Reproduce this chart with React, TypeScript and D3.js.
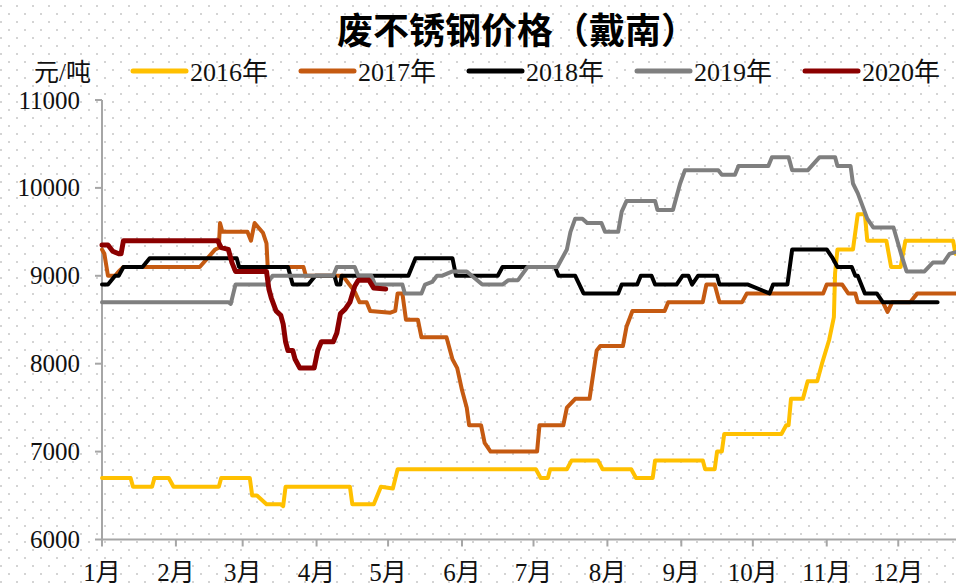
import { useEffect, useRef } from "react";
import * as d3 from "d3";

// day of year (0 = 1月1日), price in 元/吨
const prices2016: [number, number][] = [
    [0, 6700], [12, 6700], [13, 6600], [21, 6600], [22, 6700], [28, 6700], [30, 6600], [49, 6600],
    [50, 6700], [62, 6700], [63, 6500], [65, 6500], [69, 6400], [75, 6400], [76, 6380], [77, 6600],
    [104, 6600], [105, 6400], [114, 6400], [117, 6600], [122, 6580], [124, 6800], [182, 6800],
    [184, 6700], [187, 6700], [188, 6800], [195, 6800], [197, 6900], [208, 6900], [210, 6800],
    [222, 6800], [224, 6700], [231, 6700], [232, 6900], [252, 6900], [253, 6800], [257, 6800],
    [258, 7000], [260, 7000], [261, 7200], [285, 7200], [287, 7300], [288, 7300], [289, 7600],
    [294, 7600], [296, 7800], [300, 7800], [302, 8000], [305, 8270], [307, 8530], [307.5, 9030],
    [308.5, 9300], [315, 9300], [317, 9700], [320, 9700], [321, 9400], [329, 9400], [331, 9100],
    [335, 9100], [337, 9400], [357, 9400], [358, 9250], [362, 9250]
];

const prices2017: [number, number][] = [
    [0, 9300], [1, 9250], [2.5, 9000], [5.5, 9000], [7, 9050], [9, 9100], [41, 9100], [47.5, 9300],
    [49, 9320], [49.5, 9600], [50.5, 9500], [61, 9500], [62.5, 9400], [64, 9600], [67.5, 9490],
    [69, 9370], [69.5, 9100], [84.5, 9100], [85.5, 9000], [101, 9000], [106, 8820], [108, 8700],
    [111, 8700], [112.5, 8600], [121, 8580], [123, 8600], [124, 8800], [126, 8800], [127.5, 8500],
    [132.5, 8500], [134, 8300], [144.5, 8300], [147, 8050], [149, 7950], [151, 7700], [153, 7500],
    [154, 7300], [159, 7300], [160.5, 7100], [163, 7000], [182.5, 7000], [183.5, 7300], [193.5, 7300],
    [195, 7500], [198.5, 7600], [204.5, 7600], [207.5, 8150], [209, 8200], [218.5, 8200],
    [220, 8420], [222.5, 8600], [236, 8600], [237.5, 8700], [252, 8700], [253.5, 8900], [257, 8900],
    [259, 8700], [268.5, 8700], [270.5, 8800], [302.5, 8800], [304, 8900], [310.5, 8900],
    [313, 8800], [316, 8800], [317, 8700], [327.5, 8700], [329.5, 8590], [331.5, 8700], [339, 8700],
    [342, 8800], [362, 8800]
];

const prices2018: [number, number][] = [
    [0, 8900], [2.5, 8900], [5.5, 9000], [7, 9000], [9, 9100], [17, 9100], [20, 9200], [56.5, 9200],
    [57.5, 9100], [78, 9100], [80, 8900], [86.5, 8900], [89.5, 9000], [97.5, 9000], [98.5, 8900],
    [100, 8900], [100.5, 9000], [128.5, 9000], [131.5, 9200], [147, 9200], [148.5, 9000], [166, 9000],
    [168, 9100], [190, 9100], [191.5, 9000], [198.5, 9000], [202, 8800], [216.5, 8800], [218, 8900],
    [224.5, 8900], [226, 9000], [230.5, 9000], [232, 8900], [241, 8900], [243.5, 9000], [246, 9000],
    [247.5, 8900], [250, 9000], [258, 9000], [259, 8900], [271, 8900], [280, 8800], [281.5, 8900],
    [287.5, 8900], [289.5, 9300], [304, 9300], [306.5, 9200], [308.5, 9100], [314.5, 9100],
    [316, 9000], [317, 9000], [320, 8800], [325, 8800], [327.5, 8700], [350.5, 8700]
];

const prices2019: [number, number][] = [
    [0, 8700], [53, 8700], [54, 8680], [56, 8900], [69, 8900], [71.5, 9000], [97, 9000], [98.5, 9100],
    [106, 9100], [107.5, 9000], [113, 9000], [114.5, 8900], [126, 8900], [127, 8800], [134, 8800],
    [135.5, 8900], [138.5, 8930], [140.5, 9000], [142.5, 9000], [147, 9050], [153, 9050],
    [159.5, 8900], [168, 8900], [170.5, 8950], [174.5, 8950], [178.5, 9100], [191, 9100],
    [195, 9300], [196.5, 9500], [198.5, 9650], [201.5, 9650], [203.5, 9600], [209.5, 9600],
    [211, 9500], [216.5, 9500], [218, 9730], [220, 9850], [232, 9850], [233, 9750], [239.5, 9750],
    [242.5, 10050], [244.5, 10200], [258.5, 10200], [260, 10150], [265.5, 10150], [267, 10250],
    [279.5, 10250], [281, 10350], [288, 10350], [289.5, 10200], [296, 10200], [301, 10350],
    [307.5, 10350], [308.5, 10250], [314, 10250], [315, 10050], [317, 9940], [321, 9650],
    [323.5, 9550], [332, 9550], [335.5, 9220], [337.5, 9050], [345, 9050], [348.5, 9150],
    [353, 9150], [355.5, 9250], [362, 9300]
];

const prices2020: [number, number][] = [
    [0, 9350], [2.5, 9350], [4.5, 9280], [7, 9250], [8, 9250], [9, 9400], [48.5, 9400], [50, 9320],
    [53, 9300], [54.5, 9150], [56, 9050], [69, 9050], [70, 8850], [71, 8750], [73, 8600], [75, 8550],
    [76, 8450], [77, 8250], [78, 8150], [80, 8150], [81, 8050], [83, 7950], [89, 7950], [90.5, 8150],
    [92, 8250], [97, 8250], [98.5, 8350], [100, 8570], [102, 8620], [104, 8700], [106, 8880],
    [107.5, 8950], [112, 8950], [114, 8860], [119, 8850]
];

const seriesNames = ["2016年", "2017年", "2018年", "2019年", "2020年"];
const seriesData = [prices2016, prices2017, prices2018, prices2019, prices2020];
const seriesColors = ["#FFC000", "#C55A11", "#000000", "#7F7F7F", "#8B0000"];

const monthLabels = ["1月", "2月", "3月", "4月", "5月", "6月", "7月", "8月", "9月", "10月", "11月", "12月"];
const monthStarts = [0, 31, 59, 90, 120, 151, 181, 212, 243, 273, 304, 334];
const yTicks = [6000, 7000, 8000, 9000, 10000, 11000];

const W = 956;
const H = 586;
const serif = '"Liberation Serif", "Times New Roman", "Noto Sans CJK SC", serif';

const App = () => {
    const ref = useRef<SVGSVGElement>(null);

    useEffect(() => {
        document.body.style.margin = "0";
        const svg = d3.select(ref.current);
        svg.selectAll("*").remove();

        // dotted background
        const defs = svg.append("defs");
        const pat = defs.append("pattern")
            .attr("id", "dots")
            .attr("patternUnits", "userSpaceOnUse")
            .attr("width", 16)
            .attr("height", 16);
        pat.append("rect").attr("x", 8).attr("y", 13).attr("width", 2).attr("height", 2).attr("fill", "#D4D4D4");
        pat.append("rect").attr("x", 0).attr("y", 5).attr("width", 2).attr("height", 2).attr("fill", "#D4D4D4");

        svg.append("rect").attr("width", W).attr("height", H).attr("fill", "#FFFFFF");
        svg.append("rect").attr("width", W).attr("height", H).attr("fill", "url(#dots)");

        const x = d3.scaleLinear().domain([0, 365]).range([102, 102 + 365 * 2.384]);
        const y = d3.scaleLinear().domain([6000, 11000]).range([539.5, 100]);

        const axisColor = "#A6A6A6";

        // y axis
        svg.append("line")
            .attr("x1", x(0)).attr("x2", x(0))
            .attr("y1", y(11000)).attr("y2", y(6000))
            .attr("stroke", axisColor).attr("stroke-width", 2);
        yTicks.forEach(t => {
            svg.append("line")
                .attr("x1", x(0) - 7).attr("x2", x(0))
                .attr("y1", y(t)).attr("y2", y(t))
                .attr("stroke", axisColor).attr("stroke-width", 2);
            svg.append("text")
                .attr("x", 80).attr("y", y(t))
                .attr("text-anchor", "end")
                .attr("dominant-baseline", "central")
                .attr("font-family", serif)
                .attr("font-size", 25)
                .attr("fill", "#111")
                .text(t);
        });

        // x axis
        svg.append("line")
            .attr("x1", x(0)).attr("x2", x(365))
            .attr("y1", y(6000)).attr("y2", y(6000))
            .attr("stroke", axisColor).attr("stroke-width", 2);
        monthStarts.forEach((d, i) => {
            svg.append("line")
                .attr("x1", x(d)).attr("x2", x(d))
                .attr("y1", y(6000)).attr("y2", y(6000) + 7)
                .attr("stroke", axisColor).attr("stroke-width", 2);
            svg.append("text")
                .attr("x", x(d)).attr("y", 581)
                .attr("text-anchor", "middle")
                .attr("font-family", serif)
                .attr("font-size", 25)
                .attr("fill", "#111")
                .text(monthLabels[i]);
        });

        // lines
        const line = d3.line<[number, number]>()
            .x(d => x(d[0]))
            .y(d => y(d[1]));

        seriesData.forEach((data, i) => {
            svg.append("path")
                .datum(data)
                .attr("d", line)
                .attr("fill", "none")
                .attr("stroke", seriesColors[i])
                .attr("stroke-width", i === 4 ? 5 : 4)
                .attr("stroke-linejoin", "round")
                .attr("stroke-linecap", "round");
        });

        // title
        svg.append("text")
            .attr("x", 517).attr("y", 44)
            .attr("text-anchor", "middle")
            .attr("font-family", '"Noto Sans CJK SC", sans-serif')
            .attr("font-weight", "bold")
            .attr("font-size", 36)
            .attr("fill", "#000")
            .text("废不锈钢价格（戴南）");

        // unit
        svg.append("text")
            .attr("x", 34).attr("y", 72)
            .attr("dominant-baseline", "central")
            .attr("font-family", serif)
            .attr("font-size", 25)
            .attr("fill", "#111")
            .text("元/吨");

        // legend
        seriesNames.forEach((name, i) => {
            const lx = 133 + 168 * i;
            svg.append("line")
                .attr("x1", lx).attr("x2", lx + 53)
                .attr("y1", 71).attr("y2", 71)
                .attr("stroke", seriesColors[i])
                .attr("stroke-width", 5)
                .attr("stroke-linecap", "round");
            svg.append("text")
                .attr("x", lx + 57).attr("y", 72)
                .attr("dominant-baseline", "central")
                .attr("font-family", serif)
                .attr("font-size", 26)
                .attr("fill", "#111")
                .text(name);
        });
    }, []);

    return (
        <svg ref={ref} width={W} height={H} style={{ display: "block", position: "absolute", left: 0, top: 0 }} />
    );
};

export default App;
